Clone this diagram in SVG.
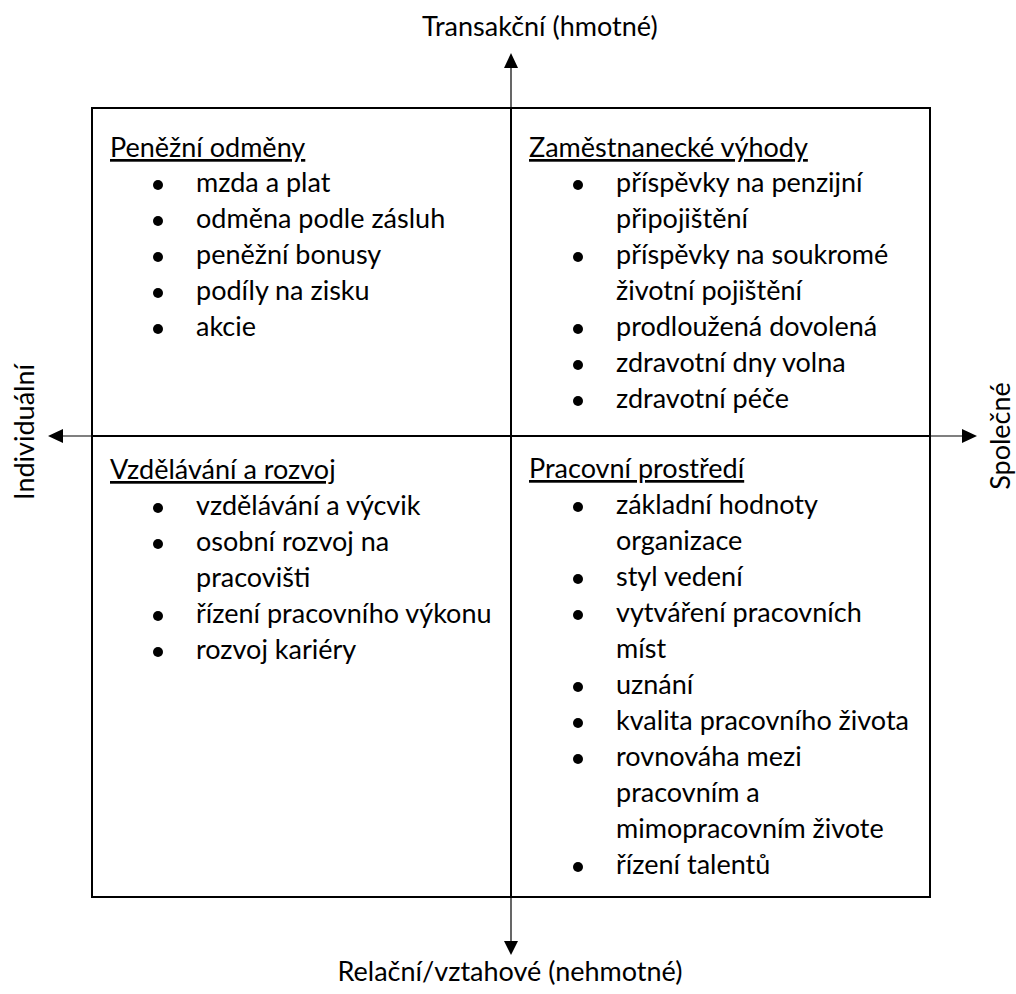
<svg xmlns="http://www.w3.org/2000/svg" width="1016" height="994" viewBox="0 0 1016 994">
<style>
text{font-family:Lato,"Open Sans","Noto Sans",sans-serif;font-size:27px;fill:#000}
.t{text-decoration:underline}
.box{fill:none;stroke:#000;stroke-width:2}
.ax{stroke:#000;stroke-width:1.2;fill:none}
.axi{stroke:#000;stroke-width:2;fill:none}
.ah{fill:#000}
.b{fill:#000}
</style>
<rect width="1016" height="994" fill="#fff"/>
<g id="connectors">
<line class="ax" x1="511" y1="60" x2="511" y2="108"/>
<line class="axi" x1="511" y1="108" x2="511" y2="897"/>
<line class="ax" x1="511" y1="897" x2="511" y2="948"/>
<line class="ax" x1="55" y1="436" x2="92" y2="436"/>
<line class="axi" x1="92" y1="436" x2="930" y2="436"/>
<line class="ax" x1="930" y1="436" x2="970" y2="436"/>
<polygon class="ah" points="511,53 504,68 518,68"/>
<polygon class="ah" points="511,955 504,941 518,941"/>
<polygon class="ah" points="48,436 63,429 63,443"/>
<polygon class="ah" points="977,436 962,429 962,443"/>
</g>
<rect class="box" x="92" y="108" width="838" height="789"/>
<g id="label-top"><text x="422" y="36">Transakční (hmotné)</text></g>
<g id="label-bottom"><text x="510" y="981" text-anchor="middle">Relační/vztahové (nehmotné)</text></g>
<g id="label-left"><text transform="translate(34,432) rotate(-90)" text-anchor="middle">Individuální</text></g>
<g id="label-right"><text transform="translate(1010,436) rotate(-90)" text-anchor="middle">Společné</text></g>
<g id="q-financni">
<text class="t" x="110" y="157">Peněžní odměny</text>
<circle class="b" cx="158" cy="185" r="5"/><text x="196" y="192">mzda a plat</text>
<circle class="b" cx="158" cy="221" r="5"/><text x="196" y="228">odměna podle zásluh</text>
<circle class="b" cx="158" cy="257" r="5"/><text x="196" y="264">peněžní bonusy</text>
<circle class="b" cx="158" cy="293" r="5"/><text x="196" y="300">podíly na zisku</text>
<circle class="b" cx="158" cy="329" r="5"/><text x="196" y="336">akcie</text>
</g>
<g id="q-vyhody">
<text class="t" x="529" y="157">Zaměstnanecké výhody</text>
<circle class="b" cx="578" cy="185" r="5"/><text x="616" y="192">příspěvky na penzijní</text>
<text x="616" y="228">připojištění</text>
<circle class="b" cx="578" cy="257" r="5"/><text x="616" y="264">příspěvky na soukromé</text>
<text x="616" y="300">životní pojištění</text>
<circle class="b" cx="578" cy="329" r="5"/><text x="616" y="336">prodloužená dovolená</text>
<circle class="b" cx="578" cy="365" r="5"/><text x="616" y="372">zdravotní dny volna</text>
<circle class="b" cx="578" cy="401" r="5"/><text x="616" y="408">zdravotní péče</text>
</g>
<g id="q-rozvoj">
<text class="t" x="110" y="479">Vzdělávání a rozvoj</text>
<circle class="b" cx="158" cy="508" r="5"/><text x="196" y="515">vzdělávání a výcvik</text>
<circle class="b" cx="158" cy="544" r="5"/><text x="196" y="551">osobní rozvoj na</text>
<text x="196" y="587">pracovišti</text>
<circle class="b" cx="158" cy="616" r="5"/><text x="196" y="623">řízení pracovního výkonu</text>
<circle class="b" cx="158" cy="652" r="5"/><text x="196" y="659">rozvoj kariéry</text>
</g>
<g id="q-prostredi">
<text class="t" x="529" y="478">Pracovní prostředí</text>
<circle class="b" cx="578" cy="507" r="5"/><text x="616" y="514">základní hodnoty</text>
<text x="616" y="550">organizace</text>
<circle class="b" cx="578" cy="579" r="5"/><text x="616" y="586">styl vedení</text>
<circle class="b" cx="578" cy="615" r="5"/><text x="616" y="622">vytváření pracovních</text>
<text x="616" y="658">míst</text>
<circle class="b" cx="578" cy="687" r="5"/><text x="616" y="694">uznání</text>
<circle class="b" cx="578" cy="723" r="5"/><text x="616" y="730">kvalita pracovního života</text>
<circle class="b" cx="578" cy="759" r="5"/><text x="616" y="766">rovnováha mezi</text>
<text x="616" y="802">pracovním a</text>
<text x="616" y="838">mimopracovním živote</text>
<circle class="b" cx="578" cy="867" r="5"/><text x="616" y="874">řízení talentů</text>
</g>
</svg>
